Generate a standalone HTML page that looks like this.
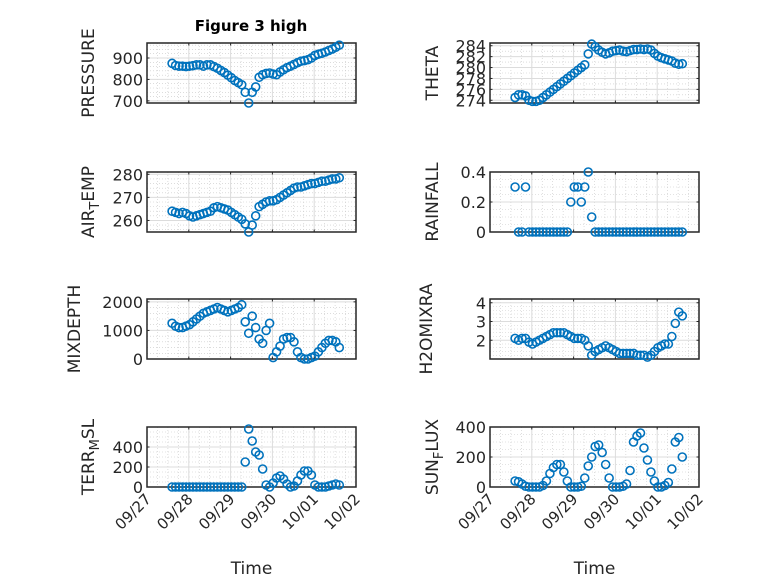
<!DOCTYPE html>
<html><head><meta charset="utf-8">
<style>
html,body{margin:0;padding:0;background:#fff;}
svg{display:block;font-family:"DejaVu Sans","Liberation Sans",sans-serif;}
</style></head>
<body>
<svg id="fig" width="778" height="583" viewBox="0 0 778 583" xmlns="http://www.w3.org/2000/svg">
<rect width="778" height="583" fill="#fff"/>
<text x="251" y="31" text-anchor="middle" font-size="15" font-weight="bold" fill="#000">Figure 3 high</text>
</svg>
<script>
// time: day offset from 09/27 for each sample (2-hourly)
const startDay = 0.6;
const stepDay = 1/12;
const xTickLabels = ["09/27","09/28","09/29","09/30","10/01","10/02"];
const pressure = [875,865,862,862,860,862,864,868,868,862,868,868,860,852,842,832,820,808,795,785,775,740,690,740,765,810,822,828,830,825,822,835,845,855,862,870,878,885,888,892,900,912,918,922,928,935,942,950,960];
const theta = [274.5,275,275,274.8,274,273.8,273.8,274,274.5,275,275.5,276,276.5,277,277.5,278,278.5,279,279.5,280,280.5,282.5,284.3,283.8,283.2,282.8,282.5,282.7,283,283.1,283.2,283,282.9,283.1,283.3,283.3,283.4,283.3,283.4,283.2,282.6,282.1,281.8,281.6,281.4,281.2,280.8,280.6,280.7];
const airTemp = [264,263.5,263,263.5,263,262,261.5,262,262.5,263,263.5,264,265.5,266,265.5,265,264.5,263.5,262.5,261.5,260.5,258.5,255,258,262,266,267,268,268.5,268.5,269,270,271,272,273,274,274.5,274.5,275,275.5,276,276,276.5,277,277,277.5,278,278,278.5];
const rainfall = [0.3,0,0,0.3,0,0,0,0,0,0,0,0,0,0,0,0,0.2,0.3,0.3,0.2,0.3,0.4,0.1,0,0,0,0,0,0,0,0,0,0,0,0,0,0,0,0,0,0,0,0,0,0,0,0,0,0];
const mixDepth = [1250,1150,1100,1100,1150,1200,1300,1400,1500,1600,1650,1700,1750,1800,1750,1700,1650,1700,1750,1800,1900,1300,900,1500,1100,700,550,1000,1250,50,250,450,700,750,750,600,250,50,0,0,50,100,250,400,550,650,650,600,400];
const h2oMix = [2.1,2.0,2.1,2.1,1.9,1.8,1.9,2.0,2.1,2.2,2.3,2.4,2.4,2.4,2.4,2.3,2.2,2.1,2.1,2.1,2.0,1.7,1.2,1.4,1.5,1.6,1.7,1.6,1.5,1.4,1.3,1.3,1.3,1.3,1.3,1.2,1.2,1.2,1.1,1.2,1.4,1.6,1.7,1.8,1.8,2.2,2.9,3.5,3.3];
const terrMsl = [0,0,0,0,0,0,0,0,0,0,0,0,0,0,0,0,0,0,0,0,0,250,580,460,350,320,180,20,0,40,90,110,80,30,0,10,60,120,160,160,120,20,0,0,0,10,20,30,20];
const sunFlux = [40,35,20,5,0,0,0,0,10,40,90,130,150,150,100,40,0,0,0,5,60,140,200,270,280,230,150,60,0,0,0,5,20,110,300,340,360,260,180,100,40,0,0,10,30,120,300,330,200];

const NS="http://www.w3.org/2000/svg";
const svg=document.getElementById('fig');
function el(tag,attrs,parent){const e=document.createElementNS(NS,tag);for(const k in attrs)e.setAttribute(k,attrs[k]);(parent||svg).appendChild(e);return e;}

const panels=[
 {name:"pressure",data:pressure,x:147,y:43,ymin:690,ymax:970,ticks:[700,800,900],minor:20,label:["PRESSURE"],lx:94},
 {name:"theta",data:theta,x:490,y:43,ymin:273.5,ymax:284.5,ticks:[274,276,278,280,282,284],minor:1,label:["THETA"],lx:438},
 {name:"air-temp",data:airTemp,x:147,y:172,ymin:255,ymax:281,ticks:[260,270,280],minor:2,label:["AIR","T","EMP"],lx:94},
 {name:"rainfall",data:rainfall,x:490,y:172,ymin:0,ymax:0.4,ticks:[0,0.2,0.4],tl:["0","0.2","0.4"],minor:0.05,label:["RAINFALL"],lx:438},
 {name:"mixdepth",data:mixDepth,x:147,y:299,ymin:0,ymax:2100,ticks:[0,1000,2000],minor:200,label:["MIXDEPTH"],lx:80},
 {name:"h2o-mix-ratio",data:h2oMix,x:490,y:299,ymin:1,ymax:4.2,ticks:[2,3,4],minor:0.2,label:["H2OMIXRA"],lx:432},
 {name:"terr-msl",data:terrMsl,x:147,y:427,ymin:0,ymax:600,ticks:[0,200,400],minor:50,label:["TERR","M","SL"],lx:94,xt:true},
 {name:"sun-flux",data:sunFlux,x:490,y:427,ymin:0,ymax:400,ticks:[0,200,400],minor:50,label:["SUN","F","LUX"],lx:438,xt:true}
];
const W=209,H=60;
panels.forEach(p=>{
  const g=el('g',{});
  
  
  const xs=d=>p.x+d/5*W;
  const ys=v=>p.y+H-(v-p.ymin)/(p.ymax-p.ymin)*H;
  for(let d=0.25;d<5;d+=0.25){if(Math.abs(d-Math.round(d))<1e-6)continue;el('line',{x1:xs(d),x2:xs(d),y1:p.y,y2:p.y+H,stroke:'#c8c8c8','stroke-width':0.6,'stroke-dasharray':'1,2'},g);}
  const m0=Math.ceil(p.ymin/p.minor)*p.minor;
  for(let v=m0;v<p.ymax;v+=p.minor){if(p.ticks.some(t=>Math.abs(t-v)<1e-6))continue;el('line',{x1:p.x,x2:p.x+W,y1:ys(v),y2:ys(v),stroke:'#c8c8c8','stroke-width':0.6,'stroke-dasharray':'1,2'},g);}
  for(let d=1;d<5;d++)el('line',{x1:xs(d),x2:xs(d),y1:p.y,y2:p.y+H,stroke:'#dcdcdc','stroke-width':1},g);
  p.ticks.forEach(v=>el('line',{x1:p.x,x2:p.x+W,y1:ys(v),y2:ys(v),stroke:'#dcdcdc','stroke-width':1},g));
  el('rect',{x:p.x,y:p.y,width:W,height:H,fill:'none',stroke:'#262626','stroke-width':1.5},g);
  for(let d=1;d<5;d++){el('line',{x1:xs(d),x2:xs(d),y1:p.y+H,y2:p.y+H-2.5,stroke:'#262626'},g);el('line',{x1:xs(d),x2:xs(d),y1:p.y,y2:p.y+2.5,stroke:'#262626'},g);}
  p.ticks.forEach((v,i)=>{
    el('line',{x1:p.x,x2:p.x+2.5,y1:ys(v),y2:ys(v),stroke:'#262626'},g);
    el('line',{x1:p.x+W,x2:p.x+W-2.5,y1:ys(v),y2:ys(v),stroke:'#262626'},g);
    const t=el('text',{x:p.x-4,y:ys(v)+6,'text-anchor':'end','font-size':16,fill:'#262626'},g);
    
    
    t.textContent=p.tl?p.tl[i]:String(v);
  });
  const cy=p.y+H/2;
  const lab=el('text',{x:p.lx,y:cy,'text-anchor':'middle','font-size':17,fill:'#262626',transform:`rotate(-90 ${p.lx} ${cy})`},g);
  
  
  if(p.label.length===1){lab.textContent=p.label[0];}
  else{
    const a=el('tspan',{},lab);a.textContent=p.label[0];
    const b=el('tspan',{'font-size':13,dy:5},lab);b.textContent=p.label[1];
    const c=el('tspan',{dy:-5},lab);c.textContent=p.label[2];
  }
  p.data.forEach((v,i)=>{
    const c=el('circle',{cx:xs(startDay+i*stepDay),cy:ys(v),r:4,fill:'none',stroke:'#0072BD','stroke-width':1.6},g);
    
    
  });
  if(p.xt){
    xTickLabels.forEach((s,i)=>{
      const tx=xs(i)+5, ty=p.y+H+13;
      const t=el('text',{x:tx,y:ty,'text-anchor':'end','font-size':15,fill:'#262626',transform:`rotate(-45 ${tx} ${ty})`},g);
      
      
      t.textContent=s;
    });
    const xl=el('text',{x:p.x+W/2,y:574,'text-anchor':'middle','font-size':17,fill:'#262626'},g);
    
    
    xl.textContent='Time';
  }
});
</script>
</body></html>
